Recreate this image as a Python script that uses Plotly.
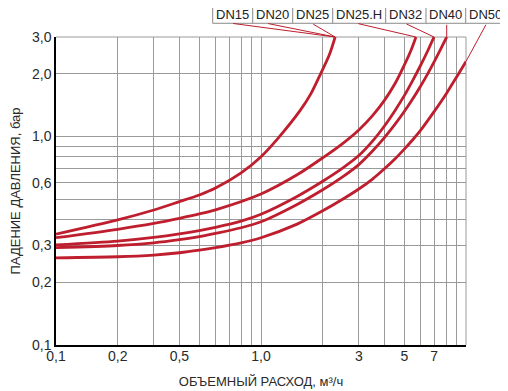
import math
import plotly.graph_objects as go

# ---- data ----
flow_c1 = [0.1, 0.2, 0.3, 0.4, 0.5, 0.6, 0.8, 1.0, 1.21, 1.55, 1.75, 1.94, 2.15, 2.30]
dp_c1 = [0.34, 0.398, 0.444, 0.487, 0.524, 0.566, 0.669, 0.80, 0.98, 1.33, 1.60, 1.97, 2.45, 3.0]

flow_c2 = [0.1, 0.2, 0.3, 0.4, 0.5, 0.6, 1.0, 1.5, 2.0, 2.5, 3.0, 3.5, 4.0, 4.5, 5.0, 5.4, 5.7]
dp_c2 = [0.327, 0.359, 0.383, 0.405, 0.425, 0.445, 0.53, 0.655, 0.79, 0.925, 1.075, 1.26, 1.49, 1.79, 2.2, 2.6, 3.0]

flow_c3 = [0.1, 0.2, 0.3, 0.4, 0.5, 0.6, 0.8, 1.0, 1.5, 2.0, 2.5, 3.0, 3.5, 4.0, 4.5, 5.0, 5.5, 6.0, 6.5, 6.98]
dp_c3 = [0.302, 0.315, 0.328, 0.341, 0.354, 0.367, 0.393, 0.424, 0.516, 0.61, 0.705, 0.81, 0.95, 1.123, 1.33, 1.57, 1.86, 2.19, 2.57, 3.0]

flow_c4 = [0.1, 0.2, 0.3, 0.4, 0.5, 0.6, 0.8, 1.0, 1.5, 2.0, 2.5, 3.0, 3.5, 4.0, 4.5, 5.0, 5.5, 6.0, 6.5, 7.0, 7.5, 8.05]
dp_c4 = [0.293, 0.300, 0.309, 0.320, 0.331, 0.343, 0.365, 0.39, 0.472, 0.555, 0.64, 0.733, 0.852, 0.987, 1.142, 1.317, 1.516, 1.742, 1.997, 2.286, 2.61, 3.0]

flow_c5 = [0.1, 0.2, 0.3, 0.4, 0.5, 0.6, 0.8, 1.0, 1.5, 2.0, 2.5, 3.0, 3.5, 4.0, 4.5, 5.0, 5.5, 6.0, 7.0, 8.0, 9.0, 10.0]
dp_c5 = [0.262, 0.265, 0.270, 0.277, 0.285, 0.293, 0.309, 0.327, 0.38, 0.44, 0.50, 0.56, 0.625, 0.70, 0.78, 0.87, 0.965, 1.07, 1.32, 1.60, 1.93, 2.29]

curves = [(flow_c1, dp_c1), (flow_c2, dp_c2), (flow_c3, dp_c3), (flow_c4, dp_c4), (flow_c5, dp_c5)]

labels = ["DN15", "DN20", "DN25", "DN25.H", "DN32", "DN40", "DN50"]
label_curve = [0, 0, 0, 1, 2, 3, 4]

x_tick_vals = [0.1, 0.2, 0.4, 1.0, 3, 5, 7]
x_tick_text = ["0,1", "0,2", "0,5", "1,0", "3", "5", "7"]
x_minor = [0.3, 0.5, 0.6, 0.7, 0.8, 0.9, 2, 4, 6, 8, 9, 10]

y_tick_vals = [0.1, 0.2, 0.3, 0.6, 1.0, 2.0, 3.0]
y_tick_text = ["0,1", "0,2", "0,3", "0,6", "1,0", "2,0", "3,0"]
y_minor = [0.4, 0.5, 0.7, 0.8, 0.9]

x_range = [0.1, 10]
y_range = [0.1, 3.0]

# ---- style ----
RED = "#be1e2d"
GRID = "#9a9a9a"
FONT = "Liberation Sans, Arial, sans-serif"

fig = go.Figure()
for fx, fy in curves:
    fig.add_trace(go.Scatter(x=fx, y=fy, mode="lines",
                             line=dict(color=RED, width=2.8, shape="spline", smoothing=0.8),
                             hoverinfo="skip", showlegend=False))

# page body has an 8px margin, so the figure is 8px smaller than the window
fig.update_layout(
    width=500, height=383,
    margin=dict(l=48, r=42, t=29, b=46),
    paper_bgcolor="white", plot_bgcolor="white",
    font=dict(family=FONT, color="#2a2a2a", size=14),
    showlegend=False,
)

fig.update_xaxes(
    type="log", range=[math.log10(x_range[0]), math.log10(x_range[1])],
    tickvals=x_tick_vals, ticktext=x_tick_text, ticks="",
    tickfont=dict(size=14, color="#2a2a2a"), ticklabelstandoff=-3,
    showgrid=True, gridcolor=GRID, gridwidth=1,
    minor=dict(tickvals=x_minor, showgrid=True, gridcolor=GRID, gridwidth=1, ticks=""),
    showline=True, linecolor="black", linewidth=1.5,
    zeroline=False,
    title=dict(text="ОБЪЕМНЫЙ РАСХОД, м³/ч", font=dict(size=13, color="#2a2a2a"), standoff=14),
    automargin=False,
)
fig.update_yaxes(
    type="log", range=[math.log10(y_range[0]), math.log10(y_range[1])],
    tickvals=y_tick_vals, ticktext=y_tick_text, ticks="",
    tickfont=dict(size=14, color="#2a2a2a"),
    showgrid=True, gridcolor=GRID, gridwidth=1,
    minor=dict(tickvals=y_minor, showgrid=True, gridcolor=GRID, gridwidth=1, ticks=""),
    showline=True, linecolor="black", linewidth=1.5,
    zeroline=False,
    title=dict(text="ПАДЕНИЕ ДАВЛЕНИЯ, бар", font=dict(size=13, color="#2a2a2a"), standoff=11),
    automargin=False,
)

# top and right frame lines (gray)
fig.add_shape(type="line", xref="paper", yref="paper", x0=0, x1=1, y0=1, y1=1,
              line=dict(color=GRID, width=1), layer="below")
fig.add_shape(type="line", xref="paper", yref="paper", x0=1, x1=1, y0=0, y1=1,
              line=dict(color=GRID, width=1), layer="below")

# label boxes (paper coordinates)
box_edges = [0.3822, 0.4798, 0.5773, 0.6749, 0.8041, 0.9024, 0.9993, 1.0976]
box_y0, box_y1 = 1.0445, 1.0984
fig.add_shape(type="rect", xref="paper", yref="paper",
              x0=box_edges[0], x1=box_edges[-1], y0=box_y0, y1=box_y1,
              line=dict(color="#8a8a8a", width=1))
for e in box_edges[1:-1]:
    fig.add_shape(type="line", xref="paper", yref="paper", x0=e, x1=e, y0=box_y0, y1=box_y1,
                  line=dict(color="#8a8a8a", width=1))
for i, lab in enumerate(labels):
    fig.add_annotation(xref="paper", yref="paper",
                       x=(box_edges[i] + box_edges[i + 1]) / 2, y=(box_y0 + box_y1) / 2,
                       text=lab, showarrow=False, font=dict(size=13, color="#222"),
                       xanchor="center", yanchor="middle")

# leader lines from box bottoms to curve ends
leader_tail_x = [0.4285, 0.5139, 0.6237, 0.7334, 0.8512, 0.9529, 1.0505]
lx0, lx1 = math.log10(x_range[0]), math.log10(x_range[1])
ly0, ly1 = math.log10(y_range[0]), math.log10(y_range[1])
for i, lab in enumerate(labels):
    fx, fy = curves[label_curve[i]]
    fig.add_annotation(xref="x", yref="y", axref="x", ayref="y",
                       x=math.log10(fx[-1]), y=math.log10(fy[-1]),
                       ax=lx0 + leader_tail_x[i] * (lx1 - lx0),
                       ay=ly0 + box_y0 * (ly1 - ly0),
                       text="", showarrow=True, arrowhead=0, arrowwidth=1,
                       arrowcolor=RED, standoff=0, startstandoff=0)

fig.write_html("out.html")
